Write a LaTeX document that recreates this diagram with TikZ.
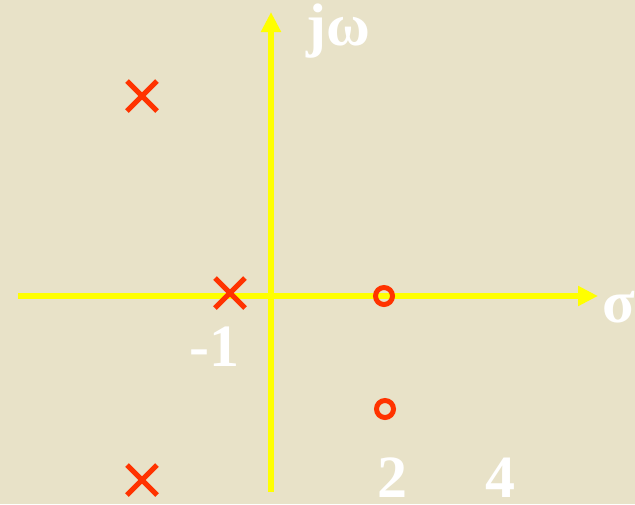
\documentclass[tikz,border=0pt]{standalone}
\usepackage{fontspec}
\setmainfont{Liberation Serif}
\usetikzlibrary{arrows.meta,shapes.misc}
\definecolor{Paper}{HTML}{E8E2C8}
\definecolor{Axis}{HTML}{FFFF00}
\definecolor{Root}{HTML}{FF3300}

\begin{document}
\begin{tikzpicture}[x=1pt,y=-1pt,
 every node/.style={font=\fontsize{60}{60}\selectfont\bfseries,text=white,inner sep=0pt},
 axis/.style={Axis,line width=6pt,-{Triangle[length=20pt,width=19pt]}},
 pole/.style={cross out,draw=Root,line width=5pt,minimum size=25pt},
 zero/.style={circle,draw=Root,line width=5pt,minimum size=17pt}]
\useasboundingbox (0,0) rectangle (635,504);
\fill[Paper] (0,0) rectangle (635,504);
\coordinate (west) at (18,296);
\coordinate (east) at (598,296);
\coordinate (south) at (271,492);
\coordinate (north) at (271,12);
\draw[axis] (west)--(east);
\draw[axis] (south)--(north);
\node[anchor=base west] (jw) at (306,45) {jω};
\node[anchor=base west] (sigma) at (602,322) {σ};
\node[anchor=base west] (minusone) at (189,366) {-1};
\node[anchor=base west] (two) at (377,497) {2};
\node[anchor=base west] (four) at (485,497) {4};
\foreach \x/\y [count=\i] in {142/96,230/293,142/480} {
 \node[pole] (p\i) at (\x,\y) {};
}
\foreach \x/\y [count=\i] in {384/296,385/409} {
 \node[zero] (z\i) at (\x,\y) {};
}
\end{tikzpicture}
\end{document}
